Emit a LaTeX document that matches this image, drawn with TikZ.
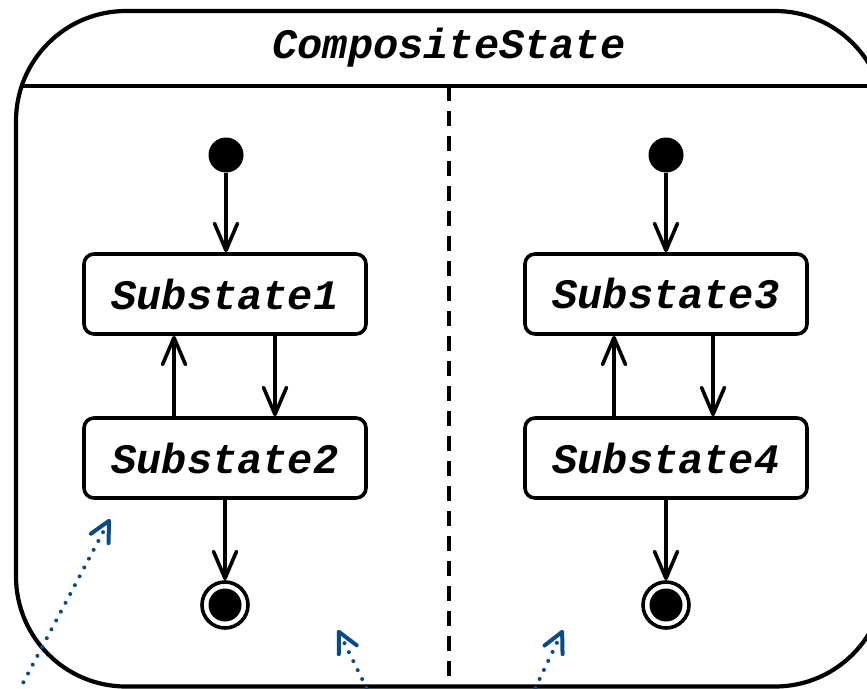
\documentclass[tikz,border=0pt]{standalone}
\usepackage{fontspec}
\setmonofont{Liberation Mono}
\usetikzlibrary{arrows.meta}
\definecolor{noteblue}{HTML}{0B4A85}
\tikzset{
  lbl/.style={font=\ttfamily\bfseries\itshape\fontsize{42}{42}\selectfont},
  substate/.style={lbl, draw, line width=3.6pt, rounded corners=10pt, minimum width=282pt, minimum height=80pt, inner sep=0pt},
  initst/.style={circle, fill=black, minimum size=35pt, inner sep=0pt},
  finalst/.style={circle, draw, line width=3.6pt, minimum size=46pt, inner sep=0pt, path picture={\fill (path picture bounding box.center) circle (16.5pt);}},
  arr/.style={line width=3.6pt, -{Straight Barb[length=27pt,width=23pt,line cap=round,line join=round]}},
  notearr/.style={noteblue, line width=4pt, line cap=round, dash pattern=on 0pt off 10pt, -{Straight Barb[length=20pt,width=20pt,line cap=round,line join=round]}}
}
\begin{document}
\begin{tikzpicture}[x=1pt,y=-1pt]
\useasboundingbox (0,0) rectangle (867,688);
\begin{scope}
\clip (0,0) rectangle (867,688);
\draw[line width=4.2pt, rounded corners=110pt] (16,11) rectangle (885,686.5);
\begin{scope}
\clip[rounded corners=110pt] (16,11) rectangle (885,686.5);
\draw[line width=4.2pt] (0,86) -- (900,86);
\draw[line width=3.6pt, dash pattern=on 15pt off 10pt] (449,86) -- (449,700);
\end{scope}
\node[lbl] (title) at (449,48) {CompositeState};

\node[initst] (i1) at (226,155) {};
\node[initst] (i2) at (666,155) {};
\node[substate] (s1) at (225,294) {Substate1};
\node[substate] (s2) at (225,458) {Substate2};
\node[substate] (s3) at (666,294) {Substate3};
\node[substate] (s4) at (666,458) {Substate4};
\node[finalst] (f1) at (225,605) {};
\node[finalst] (f2) at (666,605) {};

\draw[arr] (i1) -- (s1.north -| i1);
\draw[arr] (i2) -- (s3.north -| i2);
\draw[arr] (s2.north -| 174,0) -- (s1.south -| 174,0);
\draw[arr] (s1.south -| 275,0) -- (s2.north -| 275,0);
\draw[arr] (s4.north -| 614,0) -- (s3.south -| 614,0);
\draw[arr] (s3.south -| 713,0) -- (s4.north -| 713,0);
\draw[arr] (s2) -- (f1);
\draw[arr] (s4) -- (f2);

\coordinate (n1s) at (14,700);
\coordinate (n1e) at (110,519);
\coordinate (n2s) at (371,697);
\coordinate (n2e) at (338,630);
\coordinate (n3s) at (531,697);
\coordinate (n3e) at (563,630);
\draw[notearr] (n1s) -- (n1e);
\draw[notearr] (n2s) -- (n2e);
\draw[notearr] (n3s) -- (n3e);
\end{scope}
\end{tikzpicture}
\end{document}
